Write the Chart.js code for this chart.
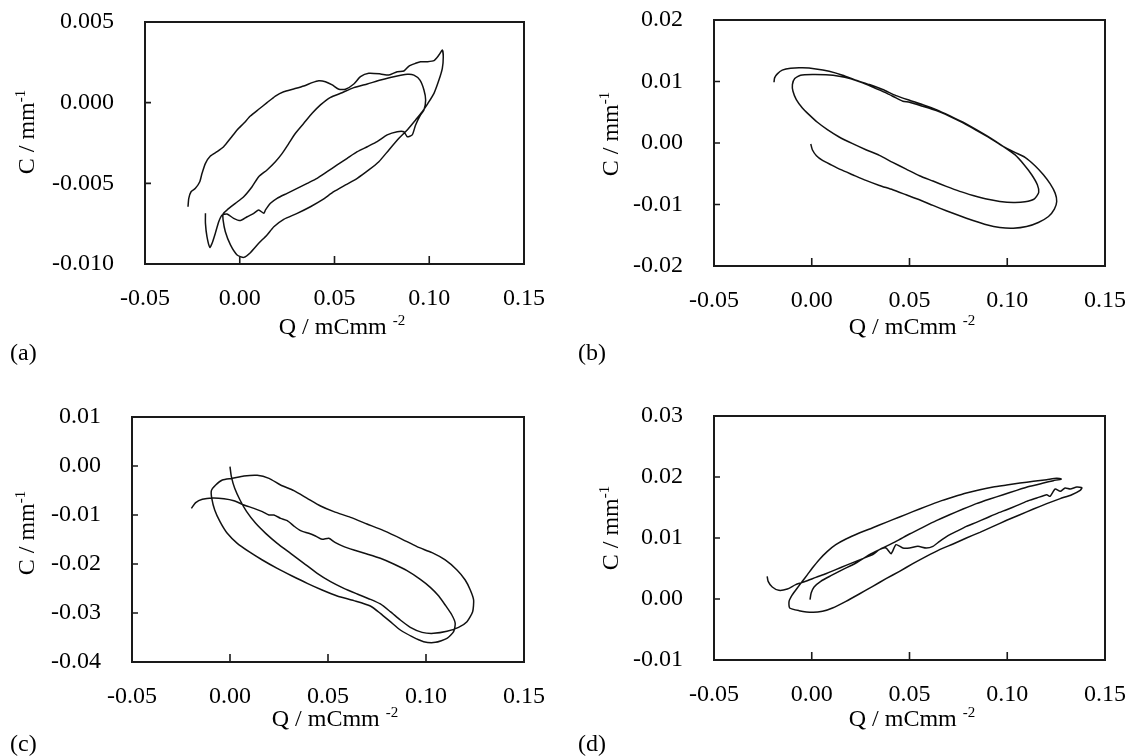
<!DOCTYPE html>
<html><head><meta charset="utf-8">
<script src="https://cdn.jsdelivr.net/npm/chart.js@4.4.1/dist/chart.umd.min.js"></script>
<style>
html,body{margin:0;padding:0;background:#fff;}
#page{position:relative;width:1131px;height:756px;overflow:hidden;background:#fff;font-family:"Liberation Serif","Times New Roman",serif;color:#000;}
canvas{position:absolute;}
.txt{position:absolute;white-space:nowrap;font-size:24px;line-height:1;}
.yt{transform:translate(-50%,-50%) rotate(-90deg);}
.xt{transform:translate(-50%,-50%);}
.sup{font-size:15px;position:relative;top:-9px;}
</style></head><body><div id="page">
<canvas id="ca"></canvas><canvas id="cb"></canvas><canvas id="cc"></canvas><canvas id="cd"></canvas>
<div class="txt yt" style="left:26px;top:132px">C / mm<span class="sup">-1</span></div>
<div class="txt yt" style="left:610px;top:134px">C / mm<span class="sup">-1</span></div>
<div class="txt yt" style="left:26px;top:533px">C / mm<span class="sup">-1</span></div>
<div class="txt yt" style="left:610px;top:528px">C / mm<span class="sup">-1</span></div>
<div class="txt xt" style="left:342px;top:326px">Q / mCmm <span class="sup">-2</span></div>
<div class="txt xt" style="left:912px;top:326px">Q / mCmm <span class="sup">-2</span></div>
<div class="txt xt" style="left:335px;top:718px">Q / mCmm <span class="sup">-2</span></div>
<div class="txt xt" style="left:912px;top:718px">Q / mCmm <span class="sup">-2</span></div>
<div class="txt" style="left:10px;top:340px">(a)</div>
<div class="txt" style="left:578px;top:340px">(b)</div>
<div class="txt" style="left:10px;top:731px">(c)</div>
<div class="txt" style="left:578px;top:731px">(d)</div>
</div>
<script>
// ---- data ----
const xTickValues = [-0.05, 0, 0.05, 0.10, 0.15];
const xTickLabels = ['-0.05', '0.00', '0.05', '0.10', '0.15'];
const yTickValuesA = [-0.010, -0.005, 0, 0.005];
const yTickLabelsA = ['-0.010', '-0.005', '0.000', '0.005'];
const yTickValuesB = [-0.02, -0.01, 0, 0.01, 0.02];
const yTickLabelsB = ['-0.02', '-0.01', '0.00', '0.01', '0.02'];
const yTickValuesC = [-0.04, -0.03, -0.02, -0.01, 0, 0.01];
const yTickLabelsC = ['-0.04', '-0.03', '-0.02', '-0.01', '0.00', '0.01'];
const yTickValuesD = [-0.01, 0, 0.01, 0.02, 0.03];
const yTickLabelsD = ['-0.01', '0.00', '0.01', '0.02', '0.03'];

const qA = [-0.0273,-0.0269,-0.0257,-0.0234,-0.0211,-0.0199,-0.0181,-0.0155,-0.0120,-0.0085,-0.0049,-0.0014,0.0021,0.0056,0.0100,0.0144,0.0188,0.0232,0.0285,0.0338,0.0382,0.0417,0.0452,0.0488,0.0523,0.0558,0.0602,0.0637,0.0681,0.0743,0.0787,0.0831,0.0866,0.0893,0.0928,0.0954,0.0989,0.1025,0.1051,0.1069,
0.1074,0.1069,0.1051,0.1025,0.0993,0.0963,0.0928,0.0884,0.0840,0.0787,0.0734,0.0681,0.0620,0.0558,0.0496,0.0435,0.0373,0.0303,0.0232,0.0180,0.0144,0.0100,0.0056,0.0021,-0.0014,-0.0049,-0.0076,-0.0088,-0.0088,
-0.0067,-0.0023,0.0021,0.0065,0.0100,0.0144,0.0188,0.0224,0.0259,0.0294,0.0338,0.0382,0.0426,0.0479,0.0532,0.0602,0.0673,0.0743,0.0813,0.0884,0.0919,0.0951,0.0972,0.0981,0.0972,
0.0954,0.0928,0.0910,0.0884,0.0866,0.0831,0.0778,0.0725,0.0673,0.0620,0.0567,0.0514,0.0461,0.0408,0.0356,0.0303,0.0250,0.0197,0.0162,0.0136,0.0127,0.0100,0.0074,0.0039,0.0004,-0.0032,-0.0067,-0.0093,-0.0111,-0.0129,-0.0146,-0.0158,-0.0173,-0.0181,-0.0181];
const cA = [-0.00645,-0.00593,-0.00552,-0.00531,-0.00490,-0.00438,-0.00376,-0.00331,-0.00304,-0.00273,-0.00221,-0.00169,-0.00128,-0.00083,-0.00041,0.00000,0.00041,0.00068,0.00085,0.00103,0.00124,0.00136,0.00130,0.00110,0.00083,0.00083,0.00116,0.00161,0.00182,0.00178,0.00171,0.00192,0.00196,0.00227,0.00244,0.00254,0.00254,0.00260,0.00295,0.00326,
0.00285,0.00213,0.00140,0.00058,-0.00004,-0.00056,-0.00107,-0.00169,-0.00221,-0.00293,-0.00366,-0.00417,-0.00469,-0.00510,-0.00552,-0.00603,-0.00645,-0.00686,-0.00723,-0.00769,-0.00820,-0.00872,-0.00930,-0.00959,-0.00944,-0.00882,-0.00800,-0.00727,-0.00690,
-0.00665,-0.00624,-0.00583,-0.00521,-0.00459,-0.00417,-0.00366,-0.00314,-0.00252,-0.00190,-0.00128,-0.00066,-0.00014,0.00033,0.00058,0.00093,0.00116,0.00140,0.00161,0.00176,0.00171,0.00140,0.00079,0.00017,-0.00045,
-0.00076,-0.00138,-0.00200,-0.00211,-0.00180,-0.00180,-0.00200,-0.00242,-0.00273,-0.00304,-0.00345,-0.00386,-0.00428,-0.00469,-0.00500,-0.00531,-0.00562,-0.00593,-0.00624,-0.00665,-0.00686,-0.00665,-0.00686,-0.00707,-0.00731,-0.00717,-0.00690,-0.00696,-0.00738,-0.00810,-0.00872,-0.00897,-0.00831,-0.00748,-0.00686];

const qB = [-0.0005,0.0003,0.0024,0.0055,0.0098,0.0149,0.0209,0.0277,0.0346,0.0414,0.0483,0.0551,0.0620,0.0688,0.0757,0.0825,0.0894,0.0962,0.1031,0.1099,0.1159,0.1211,0.1241,0.1253,0.1245,0.1219,0.1185,0.1142,0.1091,0.1039,
0.0979,0.0911,0.0842,0.0774,0.0705,0.0637,0.0568,0.0500,0.0466,0.0431,0.0380,0.0320,0.0260,0.0200,0.0140,0.0072,0.0003,-0.0057,-0.0087,-0.0099,-0.0096,-0.0079,
-0.0048,-0.0014,0.0029,0.0080,0.0140,0.0209,0.0277,0.0346,0.0414,0.0483,0.0551,0.0620,0.0688,0.0757,0.0825,0.0894,0.0962,0.1031,0.1091,0.1139,0.1161,0.1154,0.1125,0.1086,0.1039,
0.0979,0.0911,0.0842,0.0774,0.0705,0.0637,0.0568,0.0500,0.0431,0.0363,0.0295,0.0226,0.0158,0.0089,0.0021,-0.0048,-0.0108,-0.0151,-0.0176,-0.0190,-0.0193];
const cB = [-0.00016,-0.00109,-0.00206,-0.00282,-0.00353,-0.00434,-0.00516,-0.00608,-0.00690,-0.00760,-0.00842,-0.00923,-0.01015,-0.01102,-0.01184,-0.01260,-0.01330,-0.01374,-0.01385,-0.01358,-0.01292,-0.01195,-0.01075,-0.00950,-0.00815,-0.00662,-0.00516,-0.00369,-0.00233,-0.00152,
-0.00054,0.00081,0.00206,0.00326,0.00434,0.00527,0.00597,0.00662,0.00679,0.00733,0.00815,0.00896,0.00977,0.01043,0.01086,0.01108,0.01113,0.01102,0.01048,0.00950,0.00842,0.00706,
0.00570,0.00462,0.00337,0.00217,0.00098,-0.00011,-0.00109,-0.00201,-0.00315,-0.00424,-0.00532,-0.00619,-0.00706,-0.00787,-0.00853,-0.00912,-0.00950,-0.00967,-0.00956,-0.00907,-0.00804,-0.00679,-0.00516,-0.00353,-0.00190,
-0.00054,0.00087,0.00217,0.00337,0.00445,0.00543,0.00624,0.00695,0.00771,0.00869,0.00950,0.01021,0.01102,0.01167,0.01205,0.01222,0.01216,0.01184,0.01124,0.01059,0.00988];

const qC = [0.0000,0.0007,0.0024,0.0051,0.0085,0.0131,0.0182,0.0241,0.0309,0.0377,0.0445,0.0513,0.0581,0.0649,0.0716,0.0767,0.0818,0.0869,0.0920,0.0980,0.1039,
0.1107,0.1166,0.1209,0.1238,0.1243,0.1226,0.1200,0.1158,0.1098,0.1031,0.0954,0.0869,0.0784,0.0699,0.0615,0.0530,0.0462,0.0394,0.0326,0.0258,0.0199,0.0139,0.0071,0.0012,-0.0039,-0.0073,-0.0095,
-0.0093,-0.0078,-0.0051,-0.0014,0.0037,0.0097,0.0165,0.0241,0.0317,0.0394,0.0470,0.0547,0.0632,0.0716,0.0767,0.0818,0.0869,0.0929,0.0988,0.1048,0.1107,0.1141,0.1149,0.1132,
0.1098,0.1065,0.1022,0.0971,0.0903,0.0835,0.0767,0.0699,0.0632,0.0581,0.0538,0.0504,0.0470,0.0436,0.0402,0.0360,0.0326,0.0292,0.0258,0.0224,0.0199,0.0165,0.0122,0.0071,0.0020,-0.0031,-0.0090,-0.0141,-0.0175,-0.0197];
const cC = [-0.00014,-0.00218,-0.00456,-0.00694,-0.00932,-0.01170,-0.01374,-0.01578,-0.01782,-0.01986,-0.02191,-0.02361,-0.02497,-0.02612,-0.02721,-0.02816,-0.02973,-0.03143,-0.03293,-0.03395,-0.03415,
-0.03374,-0.03293,-0.03177,-0.02973,-0.02735,-0.02531,-0.02327,-0.02123,-0.01918,-0.01769,-0.01646,-0.01476,-0.01320,-0.01184,-0.01048,-0.00932,-0.00816,-0.00660,-0.00503,-0.00388,-0.00252,-0.00190,-0.00204,-0.00252,-0.00286,-0.00388,-0.00503,
-0.00660,-0.00898,-0.01136,-0.01374,-0.01578,-0.01748,-0.01918,-0.02089,-0.02245,-0.02395,-0.02531,-0.02653,-0.02748,-0.02857,-0.03007,-0.03177,-0.03347,-0.03483,-0.03585,-0.03599,-0.03517,-0.03381,-0.03211,-0.03041,
-0.02837,-0.02653,-0.02476,-0.02313,-0.02136,-0.02000,-0.01884,-0.01796,-0.01714,-0.01646,-0.01565,-0.01476,-0.01497,-0.01429,-0.01374,-0.01320,-0.01225,-0.01116,-0.01068,-0.01000,-0.01000,-0.00932,-0.00864,-0.00796,-0.00708,-0.00667,-0.00653,-0.00680,-0.00748,-0.00864];

const qD = [-0.0009,-0.0003,0.0012,0.0046,0.0098,0.0158,0.0226,0.0295,0.0363,0.0431,0.0500,0.0568,0.0637,0.0705,0.0774,0.0842,0.0911,0.0979,0.1048,0.1116,0.1185,0.1236,0.1276,
0.1253,0.1202,0.1134,0.1065,0.0997,0.0928,0.0860,0.0791,0.0723,0.0654,0.0586,0.0517,0.0449,0.0380,0.0312,0.0243,0.0175,0.0123,0.0080,0.0038,0.0003,-0.0022,-0.0048,-0.0074,-0.0099,-0.0116,-0.0113,-0.0065,0.0003,0.0055,
0.0106,0.0175,0.0243,0.0312,0.0380,0.0449,0.0517,0.0586,0.0654,0.0723,0.0791,0.0860,0.0928,0.0997,0.1065,0.1134,0.1202,0.1271,0.1330,0.1373,0.1382,
0.1356,0.1322,0.1296,0.1271,0.1245,0.1219,0.1202,0.1151,0.1099,0.1048,0.0997,0.0945,0.0894,0.0842,0.0791,0.0740,0.0697,0.0654,0.0620,0.0586,0.0543,0.0500,0.0466,0.0431,0.0406,0.0380,0.0346,0.0312,0.0277,0.0226,0.0175,0.0123,0.0072,0.0021,-0.0031,-0.0082,-0.0125,-0.0168,-0.0202,-0.0223,-0.0228];
const cD = [-0.00011,0.00098,0.00197,0.00290,0.00382,0.00481,0.00590,0.00727,0.00836,0.00945,0.01065,0.01175,0.01284,0.01382,0.01475,0.01563,0.01639,0.01710,0.01781,0.01847,0.01901,0.01940,0.01967,
0.01978,0.01956,0.01929,0.01901,0.01869,0.01836,0.01792,0.01738,0.01672,0.01601,0.01519,0.01432,0.01344,0.01257,0.01169,0.01082,0.00984,0.00891,0.00781,0.00645,0.00508,0.00399,0.00290,0.00180,0.00071,-0.00038,-0.00148,-0.00191,-0.00219,-0.00202,
-0.00148,-0.00038,0.00082,0.00208,0.00333,0.00454,0.00579,0.00699,0.00809,0.00902,0.01000,0.01093,0.01191,0.01290,0.01382,0.01475,0.01563,0.01645,0.01710,0.01781,0.01825,
0.01836,0.01803,0.01820,0.01765,0.01803,0.01683,0.01710,0.01656,0.01601,0.01530,0.01464,0.01399,0.01328,0.01257,0.01191,0.01109,0.01038,0.00945,0.00863,0.00836,0.00863,0.00836,0.00836,0.00891,0.00743,0.00836,0.00809,0.00727,0.00683,0.00617,0.00552,0.00481,0.00415,0.00355,0.00290,0.00235,0.00164,0.00142,0.00197,0.00290,0.00372];

// ---- drawing ----
const FONT = '"Liberation Serif", "Times New Roman", serif';
const W_Y = 125, PT = 50, PR = 45, HX = 60;

const frame = {
  id: 'frame',
  afterDatasetsDraw(chart) {
    const {ctx, chartArea: a, scales: {x, y}} = chart;
    ctx.save();
    ctx.strokeStyle = '#1a1a1a';
    ctx.lineWidth = 2;
    ctx.strokeRect(a.left, a.top, a.right - a.left, a.bottom - a.top);
    ctx.lineWidth = 1.6;
    ctx.beginPath();
    x.ticks.forEach(t => {
      const p = x.getPixelForValue(t.value);
      if (p > a.left + 2 && p < a.right - 2) { ctx.moveTo(p, a.bottom); ctx.lineTo(p, a.bottom - 8); }
    });
    y.ticks.forEach(t => {
      const p = y.getPixelForValue(t.value);
      if (p > a.top + 2 && p < a.bottom - 2) { ctx.moveTo(a.left, p); ctx.lineTo(a.left + 6, p); }
    });
    ctx.stroke();
    ctx.restore();
  }
};

function makePanel(id, q, c, yVals, yLabels, area) {
  const [L, T, R, B] = area;
  const cv = document.getElementById(id);
  const w = W_Y + (R - L) + PR, h = PT + (B - T) + HX;
  cv.width = w; cv.height = h;
  cv.style.left = (L - W_Y) + 'px'; cv.style.top = (T - PT) + 'px';
  cv.style.width = w + 'px'; cv.style.height = h + 'px';
  const n = Math.min(q.length, c.length);
  const pts = [];
  for (let i = 0; i < n; i++) pts.push({x: q[i], y: c[i]});
  new Chart(cv, {
    type: 'scatter',
    data: {datasets: [{data: pts, showLine: true, borderColor: '#111', borderWidth: 1.5,
      pointRadius: 0, pointHoverRadius: 0, tension: 0.2, fill: false}]},
    options: {
      responsive: false, animation: false, devicePixelRatio: 1, events: [],
      layout: {padding: {top: PT, right: PR, left: 0, bottom: 0}},
      plugins: {legend: {display: false}, tooltip: {enabled: false}},
      scales: {
        x: {
          type: 'linear', position: 'bottom',
          min: xTickValues[0], max: xTickValues[xTickValues.length - 1],
          afterBuildTicks: s => { s.ticks = xTickValues.map(v => ({value: v})); },
          afterFit: s => { s.height = HX; },
          grid: {display: false, drawTicks: false}, border: {display: false},
          ticks: {padding: 20, color: '#000', autoSkip: false, maxRotation: 0,
            font: {family: FONT, size: 24}, callback: (v, i) => xTickLabels[i]}
        },
        y: {
          type: 'linear', position: 'left',
          min: yVals[0], max: yVals[yVals.length - 1],
          afterBuildTicks: s => { s.ticks = yVals.map(v => ({value: v})); },
          afterFit: s => { s.width = W_Y; },
          grid: {display: false, drawTicks: false}, border: {display: false},
          ticks: {padding: 31, color: '#000', autoSkip: false,
            font: {family: FONT, size: 24}, callback: (v, i) => yLabels[i]}
        }
      }
    },
    plugins: [frame]
  });
}

makePanel('ca', qA, cA, yTickValuesA, yTickLabelsA, [145, 22, 524, 264]);
makePanel('cb', qB, cB, yTickValuesB, yTickLabelsB, [714, 20, 1105, 266]);
makePanel('cc', qC, cC, yTickValuesC, yTickLabelsC, [132, 417, 524, 662]);
makePanel('cd', qD, cD, yTickValuesD, yTickLabelsD, [714, 416, 1105, 660]);
</script>
</body></html>
